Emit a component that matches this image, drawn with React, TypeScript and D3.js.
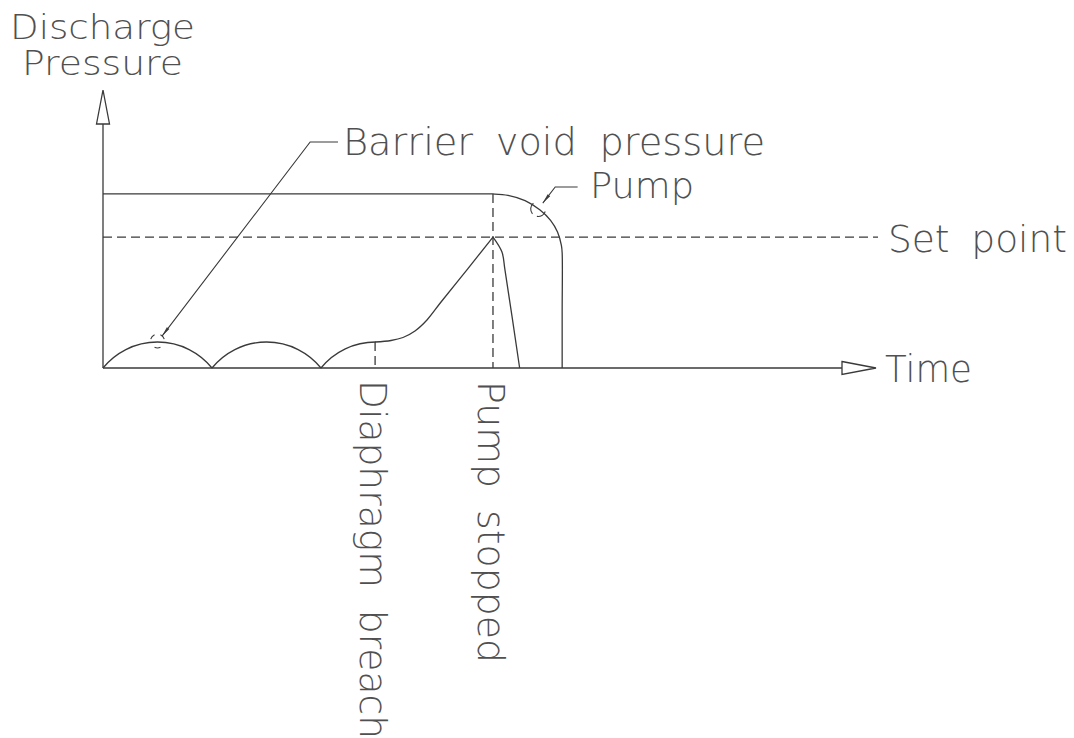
import React from "react";
import * as d3 from "d3";

// ---- data (time and pressure in arbitrary units 0..100) ----
const timeDomain = [0, 100];
const pressureDomain = [0, 100];

const archBounds = [0, 14.1, 28.2]; // start times of the barrier-void arches
const archWidth = 14.1;
const archHeight = 9.35;
const breachTime = 35.2;
const pumpStopTime = 50.45;
const setPoint = 47.1;
const pumpLevel = 62.6;

const riseCurve: [number, number][] = [
  [35.19, 9.35], [37.26, 9.89], [38.81, 10.97], [40.36, 13.31], [41.91, 17.27],
  [43.73, 23.74], [47.21, 35.76], [50.45, 47.1],
];
const fallCurve: [number, number][] = [
  [50.45, 47.1], [51.6, 41.8], [52.0, 35.3], [53.9, 0],
];
const pumpCurve: [number, number][] = [
  [0, 62.6], [45, 62.6], [50.45, 62.6], [52.4, 62.1], [54.6, 60.2], [56.5, 56.9],
  [57.9, 53.1], [58.8, 48.9], [59.3, 44.1], [59.4, 41.4], [59.4, 20], [59.4, 0],
];

const barrierAnchor: [number, number] = [7.05, 9.35];
const barrierElbow: [number, number] = [26.8, 81.3];
const barrierEnd = 30.4;
const pumpAnchor: [number, number] = [56.3, 57.2];
const pumpElbow: [number, number] = [58.5, 65.1];
const pumpEnd = 61.4;

const labels = {
  yTitle: ["Discharge", "Pressure"],
  xTitle: "Time",
  setPoint: "Set point",
  barrier: "Barrier void pressure",
  pump: "Pump",
  breach: "Diaphragm breach",
  stopped: "Pump stopped",
};

const W = 1074;
const H = 738;
const INK = "#3a3a3a";
const TXT = "#505050";
const FONT = "'DejaVu Sans', sans-serif";

export default function App() {
  const x = d3.scaleLinear().domain(timeDomain).range([103, 876]);
  const y = d3.scaleLinear().domain(pressureDomain).range([368, 90]);

  const line = d3
    .line<[number, number]>()
    .x((d) => x(d[0]))
    .y((d) => y(d[1]))
    .curve(d3.curveCatmullRom.alpha(0.5));

  // arches as circular arcs through chord ends and peak
  const arches = archBounds.map((t0, i) => {
    const x0 = x(t0);
    const x1 = x(t0 + archWidth);
    const c = x1 - x0;
    const s = y(0) - y(archHeight);
    const R = (c * c / 4 + s * s) / (2 * s);
    const cx = (x0 + x1) / 2;
    const cy = y(archHeight) + R;
    const a0 = Math.atan2(y(0) - cy, x0 - cx);
    let a1 = Math.atan2(y(0) - cy, x1 - cx);
    if (i === archBounds.length - 1) a1 = -Math.PI / 2; // truncated at breach
    const p = d3.path();
    p.arc(cx, cy, R, a0, a1, false);
    return p.toString();
  });

  const brokenCircle = (cx: number, cy: number, r: number, segs: [number, number][]) =>
    segs
      .map(([a, b]) => {
        const p = d3.path();
        p.arc(cx, cy, r, (a * Math.PI) / 180, (b * Math.PI) / 180, false);
        return p.toString();
      })
      .join(" ");

  const leader = (anchor: [number, number], elbow: [number, number], endT: number) => {
    const ax = x(anchor[0]);
    const ay = y(anchor[1]);
    const ex = x(elbow[0]);
    const ey = y(elbow[1]);
    const dx = ex - ax;
    const dy = ey - ay;
    const len = Math.hypot(dx, dy);
    const ux = dx / len;
    const uy = dy / len;
    const tipX = ax + ux * 7.5;
    const tipY = ay + uy * 7.5;
    const bx = tipX + ux * 10;
    const by = tipY + uy * 10;
    const px = -uy * 1.6;
    const py = ux * 1.6;
    return {
      line: `M${tipX},${tipY}L${ex},${ey}L${x(endT)},${ey}`,
      head: `M${tipX},${tipY}L${bx + px},${by + py}L${bx - px},${by - py}Z`,
    };
  };

  const bl = leader(barrierAnchor, barrierElbow, barrierEnd);
  const pl = leader(pumpAnchor, pumpElbow, pumpEnd);

  const bax = x(barrierAnchor[0]);
  const bay = y(barrierAnchor[1]) - 1;
  const pax = x(pumpAnchor[0]);
  const pay = y(pumpAnchor[1]);

  return (
    <svg width={W} height={H} style={{ position: "absolute", left: 0, top: 0, background: "#fff" }}>
      <g fill="none" stroke={INK} strokeWidth={1.3}>
        {/* axes */}
        <line x1={x(0)} y1={y(0)} x2={x(0)} y2={124} />
        <path d={`M${x(0) - 6.5},124L${x(0)},90L${x(0) + 6.5},124Z`} />
        <line x1={x(0)} y1={y(0)} x2={842} y2={y(0)} />
        <path d={`M842,${y(0) - 6.5}L${x(100)},${y(0)}L842,${y(0) + 6.5}Z`} />

        {/* set point */}
        <line x1={x(0)} y1={y(setPoint)} x2={878} y2={y(setPoint)} strokeDasharray="9,5" />

        {/* event markers */}
        <line x1={x(breachTime)} y1={y(archHeight)} x2={x(breachTime)} y2={y(0)} strokeDasharray="9,5" />
        <line x1={x(pumpStopTime)} y1={y(pumpLevel)} x2={x(pumpStopTime)} y2={y(0)} strokeDasharray="9,5" />

        {/* barrier void pressure */}
        {arches.map((d, i) => (
          <path key={i} d={d} />
        ))}
        <path d={line(riseCurve) || ""} />
        <path d={line(fallCurve) || ""} />

        {/* pump */}
        <path d={line(pumpCurve) || ""} />

        {/* leaders */}
        <path d={bl.line} strokeWidth={1.1} />
        <path d={pl.line} strokeWidth={1.1} />
        <path d={brokenCircle(bax, bay, 7, [[195, 245], [295, 345], [65, 115]])} strokeWidth={1.1} />
        <path d={brokenCircle(pax, pay, 7.5, [[140, 230], [20, 100]])} strokeWidth={1.1} />
      </g>
      <path d={bl.head} fill={INK} />
      <path d={pl.head} fill={INK} />

      <g fill={TXT} fontFamily={FONT} fontWeight={200}>
        <text x={10} y={39} fontSize={34} textLength={185} lengthAdjust="spacingAndGlyphs">{labels.yTitle[0]}</text>
        <text x={22} y={75} fontSize={34} textLength={161} lengthAdjust="spacingAndGlyphs">{labels.yTitle[1]}</text>
        <text x={343} y={155} fontSize={37} textLength={422} lengthAdjust="spacingAndGlyphs" style={{ wordSpacing: "10px" }}>{labels.barrier}</text>
        <text x={590} y={198} fontSize={35} textLength={104} lengthAdjust="spacingAndGlyphs">{labels.pump}</text>
        <text x={888} y={252} fontSize={38} textLength={179} lengthAdjust="spacingAndGlyphs" style={{ wordSpacing: "10px" }}>{labels.setPoint}</text>
        <text x={885} y={382} fontSize={37} textLength={87} lengthAdjust="spacingAndGlyphs">{labels.xTitle}</text>
        <text transform="translate(360,380) rotate(90)" fontSize={38} textLength={359} lengthAdjust="spacingAndGlyphs" style={{ wordSpacing: "10px" }}>{labels.breach}</text>
        <text transform="translate(478,381) rotate(90)" fontSize={38} textLength={282} lengthAdjust="spacingAndGlyphs" style={{ wordSpacing: "10px" }}>{labels.stopped}</text>
      </g>
    </svg>
  );
}
